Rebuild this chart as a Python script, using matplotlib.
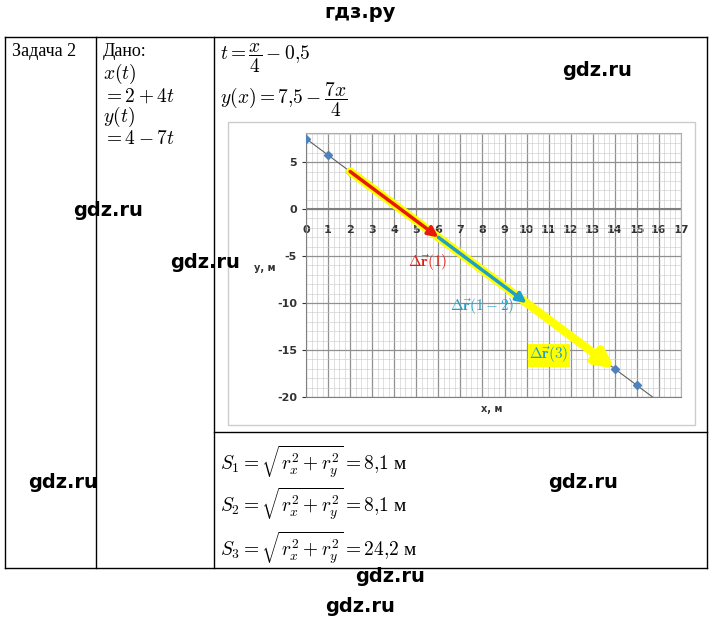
import matplotlib
matplotlib.use("Agg")
import matplotlib.pyplot as plt
import numpy as np
from matplotlib.patches import Rectangle

plt.rcParams['mathtext.fontset'] = 'cm'

xs = [0, 1, 2, 6, 10, 14, 15]
ys = [7.5, 5.75, 4, -3, -10, -17, -18.75]
line_x = [0, 15.71]
line_y = [7.5, -20]
xticks = list(range(0, 18))
yticks = [5, 0, -5, -10, -15, -20]
arrows = [((2, 4), (14, -17), '#ffff00', 6.0, 0.5, 1.0),
          ((6, -3), (10, -10), '#1fa0c8', 2.5, 0.3, 0.6),
          ((2, 4), (6, -3), '#e8180c', 2.5, 0.3, 0.6)]

W, H = 720, 624
fig = plt.figure(figsize=(7.2, 6.24), dpi=100)
def fx(p): return p / W
def fy(p): return 1 - p / H

def hline(y, x0, x1, lw=1):
    fig.add_artist(plt.Line2D([fx(x0), fx(x1)], [fy(y), fy(y)], color='black', lw=lw))
def vline(x, y0, y1, lw=1):
    fig.add_artist(plt.Line2D([fx(x), fx(x)], [fy(y0), fy(y1)], color='black', lw=lw))
hline(37, 5, 707); hline(568, 5, 707)
vline(5, 37, 568); vline(707, 37, 568); vline(96, 37, 568); vline(214, 37, 568)
hline(432, 214, 707)
fig.add_artist(Rectangle((fx(228), fy(425)), fx(695) - fx(228), fy(122) - fy(425),
                         fill=False, ec='#cccccc', lw=1))

ft = dict(family='Liberation Serif', fontsize=13)
fig.text(fx(12), fy(52), 'Задача 2', va='center', **ft)
fig.text(fx(103), fy(52), 'Дано:', va='center', **ft)
fig.text(fx(103), fy(74), r'$x(t)$', va='center', fontsize=14)
fig.text(fx(103), fy(96), r'$= 2+4t$', va='center', fontsize=14)
fig.text(fx(103), fy(117), r'$y(t)$', va='center', fontsize=14)
fig.text(fx(103), fy(139), r'$= 4-7t$', va='center', fontsize=14)
fig.text(fx(220), fy(58), r'$t = \dfrac{x}{4} - 0{,}5$', va='center', fontsize=14)
fig.text(fx(220), fy(100), r'$y(x) = 7{,}5 - \dfrac{7x}{4}$', va='center', fontsize=14)
fig.text(fx(220), fy(462), r'$S_1 = \sqrt{r_x^2 + r_y^2} = 8{,}1$ м', va='center', fontsize=14, family='Liberation Serif')
fig.text(fx(220), fy(504), r'$S_2 = \sqrt{r_x^2 + r_y^2} = 8{,}1$ м', va='center', fontsize=14, family='Liberation Serif')
fig.text(fx(220), fy(548), r'$S_3 = \sqrt{r_x^2 + r_y^2} = 24{,}2$ м', va='center', fontsize=14, family='Liberation Serif')

wm = dict(family='DejaVu Sans', fontsize=14, fontweight='bold', ha='center', va='center')
fig.text(fx(360), fy(12), 'гдз.ру', **wm)
for (px, py) in [(597, 70), (108, 210), (205, 262), (583, 483), (63, 483), (390, 577), (360, 606)]:
    fig.text(fx(px), fy(py), 'gdz.ru', **wm)

ax = fig.add_axes([fx(306), fy(397), fx(681) - fx(306), fy(133) - fy(397)])
ax.set_xlim(0, 17)
ax.set_ylim(-20, 8.1)
ax.set_xticks(np.arange(0, 17.01, 0.25), minor=True)
ax.set_yticks(np.arange(-20, 8.1, 1), minor=True)
ax.set_xticks(xticks)
ax.set_yticks(yticks)
ax.grid(which='minor', color='#c8c8c8', lw=0.4)
ax.grid(which='major', color='#909090', lw=0.9)
for s in ['top', 'right']:
    ax.spines[s].set_color('#b0b0b0')
ax.spines['left'].set_color('#808080')
ax.spines['bottom'].set_color('#808080')
ax.axhline(0, color='#808080', lw=1.5)
ax.tick_params(axis='x', length=0, pad=-124, labelsize=8, colors='#333333')
ax.tick_params(axis='y', length=3, labelsize=8, colors='#333333', which='major')
ax.tick_params(which='minor', length=0)
ax.set_yticklabels([str(v) for v in yticks])
for lab in ax.get_xticklabels() + ax.get_yticklabels():
    lab.set_fontweight('bold')
ax.plot(line_x, line_y, color='#606060', lw=0.8, zorder=3)
ax.plot(xs, ys, 'D', color='#4f81bd', ms=4, zorder=4)
for (x0, y0), (x1, y1), c, lw, hw, hl in arrows:
    ax.annotate('', xy=(x1, y1), xytext=(x0, y0),
                arrowprops=dict(arrowstyle='-|>,head_width=%.2f,head_length=%.2f' % (hw, hl),
                                color=c, lw=lw, shrinkA=0, shrinkB=0), zorder=5)
ax.text(5.5, -6.2, r'$\mathbf{\Delta\vec{r}(1)}$', color='#e8180c', fontsize=11, ha='center', zorder=6)
ax.text(8.0, -10.8, r'$\mathbf{\Delta\vec{r}(1-2)}$', color='#1fa0c8', fontsize=11, ha='center', zorder=6)
ax.text(11.0, -16.0, r'$\mathbf{\Delta\vec{r}(3)}$', color='#1fa0c8', fontsize=11, ha='center', zorder=6,
        bbox=dict(fc='#ffff00', ec='none', pad=1))
fig.text(fx(254), fy(268), 'у, м', fontsize=7, fontweight='bold', va='center', color='#333333')
fig.text(fx(492), fy(409), 'х, м', fontsize=7, fontweight='bold', ha='center', va='center', color='#333333')

fig.savefig('out.png', dpi=100)
